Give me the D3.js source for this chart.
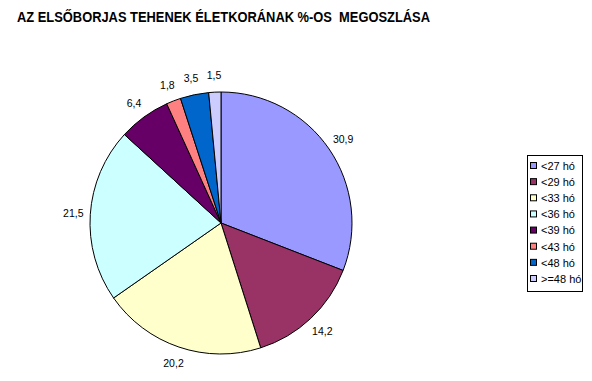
<!DOCTYPE html>
<html>
<head>
<meta charset="utf-8">
<script src="https://cdn.jsdelivr.net/npm/d3@7"></script>
<style>
  body { margin: 0; background: #fff; }
  text { font-family: "Liberation Sans", Arial, sans-serif; fill: #000; }
</style>
</head>
<body>
<div class="chart"></div>
<script>
// categories + values
var categories = ["<27 hó", "<29 hó", "<33 hó", "<36 hó", "<39 hó", "<43 hó", "<48 hó", ">=48 hó"];
var values = [30.9, 14.2, 20.2, 21.5, 6.4, 1.8, 3.5, 1.5];
var colors = ["#9999FF", "#993366", "#FFFFCC", "#CCFFFF", "#660066", "#FF8080", "#0066CC", "#CCCCFF"];
var title = "AZ ELSŐBORJAS TEHENEK ÉLETKORÁNAK %-OS  MEGOSZLÁSA";

var svg_width = 592;
var svg_height = 381;

var svg = d3.select(".chart")
            .append("svg")
            .attr("width", svg_width)
            .attr("height", svg_height);

svg.append("text")
  .attr("x", 17)
  .attr("y", 22)
  .attr("textLength", 413)
  .attr("lengthAdjust", "spacingAndGlyphs")
  .style("white-space", "pre")
  .style("font-size", "14px")
  .style("font-weight", "bold")
  .text(title);

var data = categories.map((c, i) => ({cat: c, value: values[i], color: colors[i]}));

var cx = 221, cy = 223, radius = 131;

var pie = d3.pie()
            .sort(null)
            .value(d => d.value);

var arc = d3.arc()
            .innerRadius(0)
            .outerRadius(radius);

var labelArc = d3.arc()
            .innerRadius(148)
            .outerRadius(148);

var pie_g = svg.append("g")
               .attr("transform", "translate(" + cx + "," + cy + ")");

var arcs = pie(data);

pie_g.selectAll("path")
  .data(arcs)
  .enter()
  .append("path")
  .attr("d", arc)
  .style("fill", d => d.data.color)
  .style("stroke", "#000")
  .style("stroke-width", 1);

// 1,8 style labels (comma decimals)
var fmt = v => d3.format(".1f")(v).replace(".", ",");

pie_g.selectAll("text.lbl")
  .data(arcs)
  .enter()
  .append("text")
  .attr("class", "lbl")
  .attr("transform", d => "translate(" + labelArc.centroid(d) + ")")
  .attr("text-anchor", "middle")
  .attr("dy", "0.35em")
  .style("font-size", "10.5px")
  .text(d => fmt(d.data.value));

// legend
var legend_g = svg.append("g")
                  .attr("transform", "translate(527, 155)");

legend_g.append("rect")
  .attr("x", 0.5)
  .attr("y", 0.5)
  .attr("width", 55)
  .attr("height", 136)
  .style("fill", "#fff")
  .style("stroke", "#000")
  .style("stroke-width", 1);

var legY = d3.scalePoint()
             .domain(categories)
             .range([11, 124]);

var items = legend_g.selectAll("g.item")
  .data(data)
  .enter()
  .append("g")
  .attr("class", "item")
  .attr("transform", d => "translate(0," + legY(d.cat) + ")");

items.append("rect")
  .attr("x", 3.5)
  .attr("y", -3.5)
  .attr("width", 6)
  .attr("height", 6)
  .style("fill", d => d.color)
  .style("stroke", "#000")
  .style("stroke-width", 1);

items.append("text")
  .attr("x", 14)
  .attr("y", 0)
  .attr("dy", "0.35em")
  .style("font-size", "11px")
  .text(d => d.cat);
</script>
</body>
</html>
